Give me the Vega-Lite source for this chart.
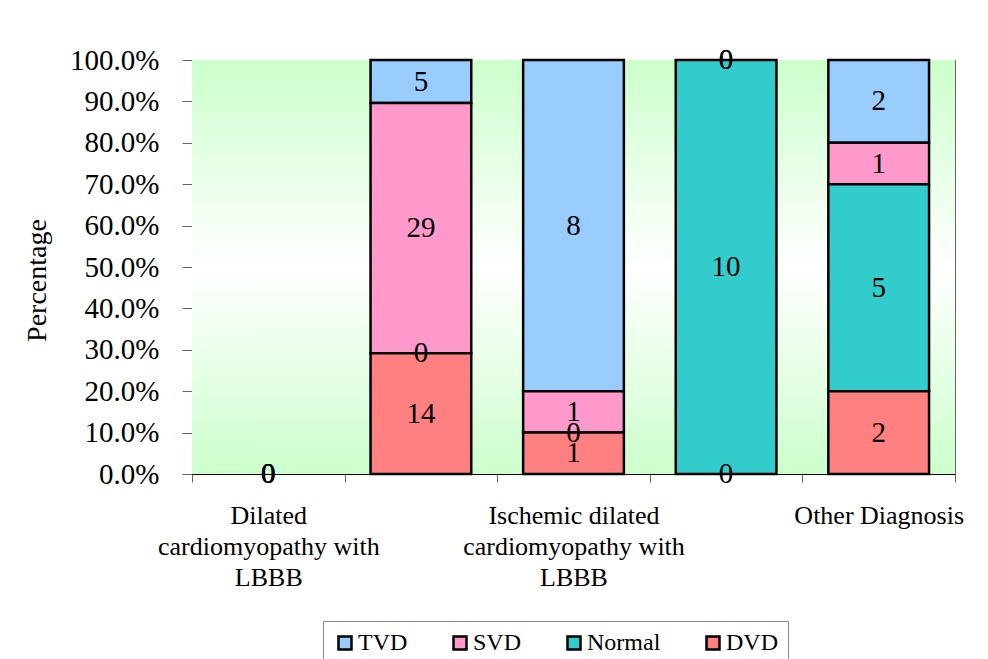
{
  "$schema": "https://vega.github.io/schema/vega-lite/v6.json",
  "width": 763,
  "height": 414,
  "autosize": {"type": "none"},
  "padding": {"left": 192, "top": 60, "right": 33, "bottom": 185},
  "background": "white",
  "config": {
    "font": "Liberation Serif",
    "view": {"stroke": "#666666", "strokeWidth": 1},
    "axis": {"labelColor": "black", "titleColor": "black", "domainColor": "black", "tickColor": "#666666", "grid": false}
  },
  "datasets": {
    "counts": [
      {"diagnosis": "Dilated|cardiomyopathy with|LBBB", "series": "TVD", "count": 0, "share": 0},
      {"diagnosis": "Dilated|cardiomyopathy with|LBBB", "series": "SVD", "count": 0, "share": 0},
      {"diagnosis": "Dilated|cardiomyopathy with|LBBB", "series": "Normal", "count": 0, "share": 0},
      {"diagnosis": "Dilated|cardiomyopathy with|LBBB", "series": "DVD", "count": 0, "share": 0},
      {"diagnosis": "_group 2", "series": "TVD", "count": 5, "share": 0.1041},
      {"diagnosis": "_group 2", "series": "SVD", "count": 29, "share": 0.6042},
      {"diagnosis": "_group 2", "series": "Normal", "count": 0, "share": 0},
      {"diagnosis": "_group 2", "series": "DVD", "count": 14, "share": 0.2917},
      {"diagnosis": "Ischemic dilated|cardiomyopathy with|LBBB", "series": "TVD", "count": 8, "share": 0.8},
      {"diagnosis": "Ischemic dilated|cardiomyopathy with|LBBB", "series": "SVD", "count": 1, "share": 0.1},
      {"diagnosis": "Ischemic dilated|cardiomyopathy with|LBBB", "series": "Normal", "count": 0, "share": 0},
      {"diagnosis": "Ischemic dilated|cardiomyopathy with|LBBB", "series": "DVD", "count": 1, "share": 0.1},
      {"diagnosis": "_group 4", "series": "TVD", "count": 0, "share": 0},
      {"diagnosis": "_group 4", "series": "SVD", "count": 0, "share": 0},
      {"diagnosis": "_group 4", "series": "Normal", "count": 10, "share": 1.0},
      {"diagnosis": "_group 4", "series": "DVD", "count": 0, "share": 0},
      {"diagnosis": "Other Diagnosis", "series": "TVD", "count": 2, "share": 0.2},
      {"diagnosis": "Other Diagnosis", "series": "SVD", "count": 1, "share": 0.1},
      {"diagnosis": "Other Diagnosis", "series": "Normal", "count": 5, "share": 0.5},
      {"diagnosis": "Other Diagnosis", "series": "DVD", "count": 2, "share": 0.2}
    ]
  },
  "layer": [
    {
      "data": {"values": [{"panel": "plot area"}]},
      "mark": {
        "type": "rect",
        "fill": {
          "gradient": "linear", "x1": 0, "y1": 0, "x2": 0, "y2": 1,
          "stops": [
            {"offset": 0, "color": "#ccffcc"},
            {"offset": 0.5, "color": "#ffffff"},
            {"offset": 1, "color": "#ccffcc"}
          ]
        }
      },
      "encoding": {}
    },
    {
      "data": {"name": "counts"},
      "transform": [{"filter": "datum.share > 0"}],
      "mark": {"type": "bar", "stroke": "black", "strokeWidth": 2.5, "width": {"band": 0.66}},
      "encoding": {
        "x": {
          "field": "diagnosis", "type": "nominal",
          "sort": ["Dilated|cardiomyopathy with|LBBB", "_group 2", "Ischemic dilated|cardiomyopathy with|LBBB", "_group 4", "Other Diagnosis"],
          "scale": {"paddingInner": 0, "paddingOuter": 0},
          "axis": {
            "title": null,
            "labelExpr": "indexof(datum.label, '_') == 0 ? '' : split(datum.label, '|')",
            "labelAngle": 0,
            "labelFontSize": 26,
            "labelLineHeight": 31,
            "labelLimit": 400,
            "labelOverlap": false,
            "labelPadding": 20,
            "tickSize": 8,
            "tickBand": "extent"
          }
        },
        "y": {
          "field": "share", "type": "quantitative", "stack": "zero",
          "scale": {"domain": [0, 1], "nice": false},
          "axis": {
            "title": "Percentage",
            "values": [0, 0.1, 0.2, 0.3, 0.4, 0.5, 0.6, 0.7, 0.8, 0.9, 1],
            "format": ".1%",
            "labelFontSize": 29,
            "labelPadding": 23,
            "tickSize": 10,
            "titleFontSize": 28,
            "titleFontWeight": "normal",
            "titlePadding": 18,
            "titleY": 220
          }
        },
        "color": {
          "field": "series", "type": "nominal",
          "scale": {"domain": ["TVD", "SVD", "Normal", "DVD"], "range": ["#99ccff", "#ff99cc", "#33cccc", "#ff8080"]},
          "legend": {
            "title": null,
            "orient": "none",
            "legendX": 131,
            "legendY": 561,
            "direction": "horizontal",
            "padding": 10,
            "strokeColor": "#888888",
            "fillColor": "white",
            "labelFontSize": 24,
            "labelColor": "black",
            "symbolType": "square",
            "symbolSize": 169,
            "symbolStrokeColor": "black",
            "symbolStrokeWidth": 2.5,
            "symbolOpacity": 1,
            "labelOffset": 1,
            "columnPadding": 40
          }
        },
        "order": {"field": "series", "sort": "ascending"}
      }
    },
    {
      "data": {"name": "counts"},
      "transform": [
        {"stack": "share", "groupby": ["diagnosis"], "sort": [{"field": "series", "order": "ascending"}], "as": ["lo", "hi"]},
        {"fold": ["lo", "hi"], "as": ["edge", "pos"]}
      ],
      "mark": {"type": "text", "fontSize": 29, "color": "black", "baseline": "middle", "align": "center"},
      "encoding": {
        "x": {
          "field": "diagnosis", "type": "nominal",
          "sort": ["Dilated|cardiomyopathy with|LBBB", "_group 2", "Ischemic dilated|cardiomyopathy with|LBBB", "_group 4", "Other Diagnosis"]
        },
        "y": {"aggregate": "mean", "field": "pos", "type": "quantitative"},
        "detail": {"field": "series", "type": "nominal"},
        "text": {"field": "count", "type": "quantitative"}
      }
    }
  ]
}
